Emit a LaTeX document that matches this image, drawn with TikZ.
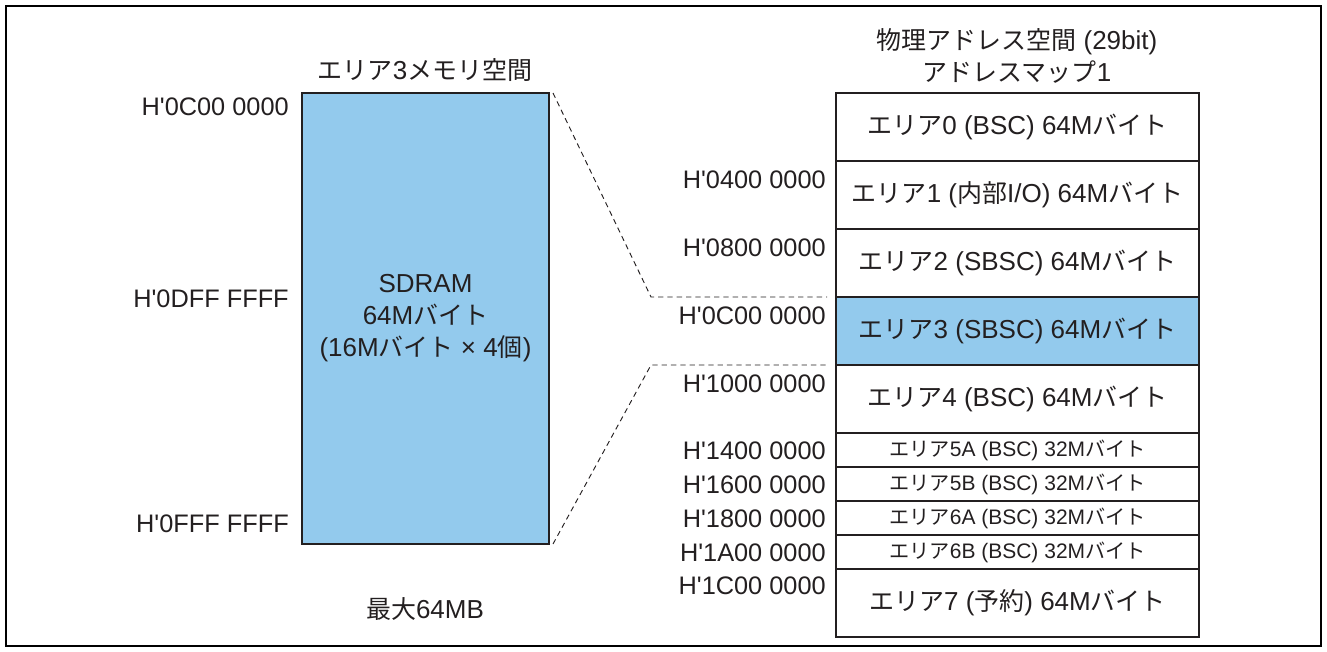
\documentclass[tikz,border=0pt]{standalone}
\usepackage{fontspec}
\newfontfamily\lib{Liberation Sans}
\newfontfamily\jpf[Scale=0.96]{Noto Sans CJK JP}
\newcommand{\J}[1]{{\jpf #1}}
\definecolor{ink}{RGB}{35,31,32}
\definecolor{areablue}{RGB}{147,202,237}
\tikzset{
  txt/.style={text=ink, inner sep=0pt, font=\lib\fontsize{19.5}{24}\selectfont},
  rowbox/.style={txt, draw=ink, line width=1.5pt, minimum width=272.25pt, anchor=north west, outer sep=0pt},
  bigrow/.style={rowbox, minimum height=51pt},
  smallrow/.style={rowbox, minimum height=25.5pt, font=\lib\fontsize{15.75}{18}\selectfont},
  addr/.style={txt, anchor=east, font=\lib\fontsize{19}{24}\selectfont},
  guide/.style={draw=ink, line width=0.7pt, dash pattern=on 4pt off 3pt}
}
\begin{document}
\begin{tikzpicture}[x=0.75pt,y=-0.75pt]
\useasboundingbox (0,0) rectangle (1327,652);
\draw[line width=1.5pt, black] (6,6) rectangle (1321,646);

% left memory space
\node[txt] (t0) at (425,70) {\J{エリア}3\J{メモリ空間}};
\node[txt, draw=ink, line width=1.5pt, fill=areablue, minimum width=185.25pt, minimum height=338.25pt,
      anchor=north west, outer sep=0pt, align=center] (mem) at (302,93)
      {SDRAM\\64M\J{バイト}\\(16M\J{バイト} × 4\J{個})};
\node[addr] (l0) at (289,107) {H'0C00 0000};
\node[addr] (l1) at (289,299) {H'0DFF FFFF};
\node[addr] (l2) at (289,524) {H'0FFF FFFF};
\node[txt] (mx) at (425,609) {\J{最大}64MB};

% right address map
\node[txt] (t1) at (1017,42) {\J{物理アドレス空間} (29bit)};
\node[txt] (t2) at (1017,72) {\J{アドレスマップ}1};
\node[bigrow] (a0) at (836,93) {\J{エリア}0 (BSC) 64M\J{バイト}};
\node[bigrow] (a1) at (a0.south west) {\J{エリア}1 (\J{内部}I/O) 64M\J{バイト}};
\node[bigrow] (a2) at (a1.south west) {\J{エリア}2 (SBSC) 64M\J{バイト}};
\node[bigrow, fill=areablue] (a3) at (a2.south west) {\J{エリア}3 (SBSC) 64M\J{バイト}};
\node[bigrow] (a4) at (a3.south west) {\J{エリア}4 (BSC) 64M\J{バイト}};
\node[smallrow] (a5a) at (a4.south west) {\J{エリア}5A (BSC) 32M\J{バイト}};
\node[smallrow] (a5b) at (a5a.south west) {\J{エリア}5B (BSC) 32M\J{バイト}};
\node[smallrow] (a6a) at (a5b.south west) {\J{エリア}6A (BSC) 32M\J{バイト}};
\node[smallrow] (a6b) at (a6a.south west) {\J{エリア}6B (BSC) 32M\J{バイト}};
\node[bigrow] (a7) at (a6b.south west) {\J{エリア}7 (\J{予約}) 64M\J{バイト}};

\node[addr] (r1) at (826,180) {H'0400 0000};
\node[addr] (r2) at (826,248) {H'0800 0000};
\node[addr] (r3) at (826,316) {H'0C00 0000};
\node[addr] (r4) at (826,384) {H'1000 0000};
\node[addr] (r5) at (826,451) {H'1400 0000};
\node[addr] (r6) at (826,485) {H'1600 0000};
\node[addr] (r7) at (826,519) {H'1800 0000};
\node[addr] (r8) at (826,553) {H'1A00 0000};
\node[addr] (r9) at (826,586) {H'1C00 0000};

% dashed guides
\coordinate (d1) at (651,297);
\coordinate (e1) at (827,297);
\coordinate (d2) at (651,365);
\coordinate (e2) at (827,365);
\draw[guide] ([xshift=3pt]mem.north east) -- (d1) -- (e1);
\draw[guide] ([xshift=3pt]mem.south east) -- (d2) -- (e2);
\end{tikzpicture}
\end{document}
